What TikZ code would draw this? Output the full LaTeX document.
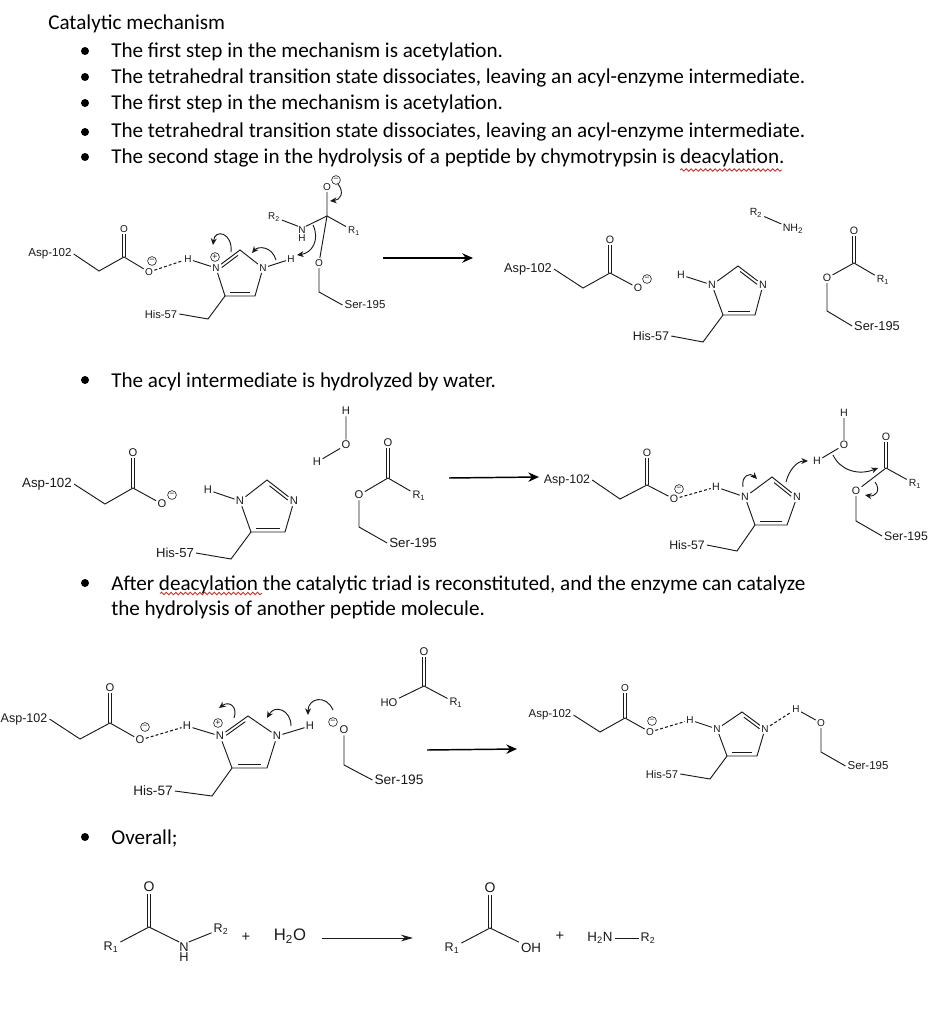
\documentclass[tikz,border=0pt]{standalone}
\usepackage{fontspec}
\setmainfont{Liberation Sans}
\newfontfamily\docfont{Carlito}
\usetikzlibrary{arrows.meta,calc,decorations.pathmorphing}
\newcommand{\fsz}[1]{\fontsize{#1}{#1}\selectfont}
\newcommand{\atomsz}{7.5}
\definecolor{inkc}{HTML}{1A1A1A}
\definecolor{squigc}{HTML}{C8302A}
\tikzset{
  body/.style={anchor=base west,inner sep=0pt,text=black,font=\docfont\fsz{15.85}},
  bul/.style={circle,fill=black,inner sep=0pt,minimum size=6pt},
  atom/.style={inner sep=0.9pt,text=inkc,font=\fsz{\atomsz}},
  lab/.style={inner sep=1.4pt,text=inkc,font=\fsz{#1}},
  chg/.style={circle,draw=inkc,line width=.45pt,inner sep=0pt,minimum size=6.6pt,text=inkc,font=\fsz{6.5}},
  bond/.style={draw=inkc,line width=.7pt},
  hb/.style={draw=inkc,line width=.8pt,dash pattern=on 2.2pt off 1.6pt},
  curly/.style={draw=inkc,line width=.7pt,-{Stealth[length=5pt,width=4.5pt]}},
  rxn/.style={draw=black,line width=1.1pt,-{Stealth[length=8pt,width=7pt]}},
  rxnthin/.style={draw=inkc,line width=.7pt,-{Stealth[length=9pt,width=5pt]}},
  squig/.style={draw=squigc,line width=.65pt,decorate,decoration={snake,amplitude=.9pt,segment length=3.6pt}},
}
\newcommand{\dbl}[2]{%
  \draw[bond,transform canvas={xshift=-1.1pt}] (#1)--(#2);
  \draw[bond,transform canvas={xshift=1.1pt}] (#1)--(#2);}
\newcommand{\inner}[3]{\draw[bond] ($(#1)!.16!(#2)!2.3pt!#3:(#2)$)--($(#1)!.84!(#2)!2.3pt!#3:(#2)$);}
\newcommand{\curl}[5]{%
  \coordinate (#1s) at (#2); \coordinate (#1e) at (#5);
  \draw[curly] (#1s) .. controls (#3) and (#4) .. (#1e);}
\begin{document}
\begin{tikzpicture}[x=.75pt,y=-.75pt]
\clip (0,0) rectangle (948,1020);
\fill[white] (0,0) rectangle (948,1020);
% ---------- text
\node[body] (t0) at (48,30) {Catalytic mechanism};
\node[body] (t1) at (111,58) {The first step in the mechanism is acetylation.};
\node[body] (t2) at (111,84) {The tetrahedral transition state dissociates, leaving an acyl-enzyme intermediate.};
\node[body] (t3) at (111,110) {The first step in the mechanism is acetylation.};
\node[body] (t4) at (111,138) {The tetrahedral transition state dissociates, leaving an acyl-enzyme intermediate.};
\node[body] (t5) at (111,164) {The second stage in the hydrolysis of a peptide by chymotrypsin is deacylation.};
\node[body] (t6) at (111,387) {The acyl intermediate is hydrolyzed by water.};
\node[body] (t7) at (111,590) {After deacylation the catalytic triad is reconstituted, and the enzyme can catalyze};
\node[body] (t8) at (111,615) {the hydrolysis of another peptide molecule.};
\node[body] (t9) at (111,844) {Overall;};
\foreach \n/\y in {b1/51,b2/77,b3/103,b4/132,b5/157,b6/380,b7/583,b9/837}
  \node[bul] (\n) at (85,\y) {};
\draw[squig] (680,170) -- (782,170);
\draw[squig] (160,593.5) -- (262,593.5);

% ---------- row 1 left
\renewcommand{\atomsz}{7.5}
\node[lab=8.7] (a1l) at (50,254) {Asp-102};
\coordinate (a1a) at (99,271); \coordinate (a1c) at (124,257);
\node[atom] (a1o) at (124,229) {O}; \node[atom] (a1m) at (149,272) {O};
\node[chg] (a1q) at (152,261) {−};
\draw[bond] (a1l.east)--(a1a)--(a1c)--(a1m); \dbl{a1c}{a1o}
\node[atom] (a1h) at (188,259) {H};
\draw[hb] (a1m)--(a1h);
\node[atom] (a1n) at (216,268) {N}; \node[chg] (a1p) at (215,257) {+};
\coordinate (a1t) at (240,250); \node[atom] (a1r) at (263,268) {N};
\coordinate (a1d) at (255,296); \coordinate (a1b) at (225,296);
\draw[bond] (a1h)--(a1n)--(a1t)--(a1r)--(a1d)--(a1b)--(a1n);
\inner{a1n}{a1t}{-90} \inner{a1b}{a1d}{90}
\node[lab=8.4] (a1j) at (161,314) {His-57};
\coordinate (a1g) at (208,319); \draw[bond] (a1j.east)--(a1g)--(a1b);
\node[atom] (a1k) at (291,259) {H}; \draw[bond] (a1r)--(a1k);
\coordinate (a1x) at (327,216); \node[atom] (a1y) at (327,187) {O}; \node[chg] (a1z) at (336,180) {−};
\node[atom,align=center,inner sep=0pt] (a1u) at (302,234) {N\\[-1.5pt]H};
\node[lab=7.4] (a1v) at (274,217) {R\textsubscript{2}};
\node[lab=7.4] (a1w) at (354,231) {R\textsubscript{1}};
\node[atom] (a1q2) at (319,263) {O};
\coordinate (a1h2) at (319,292);
\node[lab=8.6] (a1s) at (365,305) {Ser-195};
\draw[bond] (a1y)--(a1x)--(a1w); \draw[bond] (a1x)--(a1u.north east); \draw[bond] (a1v)--(a1u.north west);
\draw[bond] (a1x)--(a1q2)--(a1h2)--(a1s.west);
\curl{c11}{231,252}{233,233}{215,228}{213,245}
\curl{c12}{276,260}{272,246}{258,246}{252,253}
\curl{c13}{313,225}{320,240}{312,253}{297,255}
\curl{c14}{338,184}{345,193}{340,200}{330,201}
\coordinate (r1s) at (383,258); \coordinate (r1e) at (473,258);
\draw[rxn] (r1s)--(r1e);

% ---------- row 1 right
\renewcommand{\atomsz}{8}
\node[lab=9.6] (a2l) at (528,269) {Asp-102};
\coordinate (a2a) at (583,288); \coordinate (a2c) at (610,273);
\node[atom] (a2o) at (610,240) {O}; \node[atom] (a2m) at (638,288) {O};
\node[chg] (a2q) at (647,279) {−};
\draw[bond] (a2l.east)--(a2a)--(a2c)--(a2m); \dbl{a2c}{a2o}
\node[atom] (a2h) at (681,275) {H};
\node[atom] (a2n) at (712,285) {N}; \coordinate (a2t) at (738,266); \node[atom] (a2r) at (763,285) {N};
\coordinate (a2d) at (755,315); \coordinate (a2b) at (723,315);
\draw[bond] (a2h)--(a2n)--(a2t)--(a2r)--(a2d)--(a2b)--(a2n);
\inner{a2t}{a2r}{-90} \inner{a2b}{a2d}{90}
\node[lab=9.4] (a2j) at (651,336) {His-57};
\coordinate (a2g) at (703,342); \draw[bond] (a2j.east)--(a2g)--(a2b);
\node[lab=7.8] (a2v) at (756,213) {R\textsubscript{2}};
\node[atom] (a2w) at (793,229) {NH\textsubscript{2}};
\draw[bond] (a2v)--(a2w);
\coordinate (a2x) at (854,263); \node[atom] (a2y) at (854,231) {O};
\node[lab=7.8] (a2z) at (883,280) {R\textsubscript{1}};
\node[atom] (a2e) at (827,278) {O}; \coordinate (a2f) at (827,311);
\node[lab=9.6] (a2s) at (877,326) {Ser-195};
\dbl{a2x}{a2y}
\draw[bond] (a2z)--(a2x)--(a2e)--(a2f)--(a2s.west);

% ---------- row 2 left
\renewcommand{\atomsz}{8.4}
\node[lab=10] (a3l) at (47,484) {Asp-102};
\coordinate (a3a) at (105,504); \coordinate (a3c) at (133,488);
\node[atom] (a3o) at (133,453) {O}; \node[atom] (a3m) at (162,504) {O};
\node[chg] (a3q) at (172,495) {−};
\draw[bond] (a3l.east)--(a3a)--(a3c)--(a3m); \dbl{a3c}{a3o}
\node[atom] (a3h) at (208,490) {H};
\node[atom] (a3n) at (240,501) {N}; \coordinate (a3t) at (267,480); \node[atom] (a3r) at (294,501) {N};
\coordinate (a3d) at (285,532); \coordinate (a3b) at (251,532);
\draw[bond] (a3h)--(a3n)--(a3t)--(a3r)--(a3d)--(a3b)--(a3n);
\inner{a3t}{a3r}{-90} \inner{a3b}{a3d}{90}
\node[lab=9.8] (a3j) at (175,553) {His-57};
\coordinate (a3g) at (231,559); \draw[bond] (a3j.east)--(a3g)--(a3b);
\node[atom] (a3k) at (346,411) {H}; \node[atom] (a3u) at (346,445) {O}; \node[atom] (a3v) at (317,462) {H};
\draw[bond] (a3k)--(a3u)--(a3v);
\coordinate (a3x) at (388,478); \node[atom] (a3y) at (388,443) {O};
\node[lab=8.2] (a3z) at (419,496) {R\textsubscript{1}};
\node[atom] (a3e) at (359,495) {O}; \coordinate (a3f) at (359,527);
\node[lab=10] (a3s) at (413,543) {Ser-195};
\dbl{a3x}{a3y}
\draw[bond] (a3z)--(a3x)--(a3e)--(a3f)--(a3s.west);
\coordinate (r2s) at (449,478); \coordinate (r2e) at (539,477);
\draw[rxn] (r2s)--(r2e);

% ---------- row 2 right
\renewcommand{\atomsz}{8}
\node[lab=9.3] (a4l) at (567,480) {Asp-102};
\coordinate (a4a) at (620,499); \coordinate (a4c) at (647,485);
\node[atom] (a4o) at (647,453) {O}; \node[atom] (a4m) at (674,499) {O};
\node[chg] (a4q) at (679,489) {−};
\draw[bond] (a4l.east)--(a4a)--(a4c)--(a4m); \dbl{a4c}{a4o}
\node[atom] (a4h) at (716,487) {H}; \draw[hb] (a4m)--(a4h);
\node[atom] (a4n) at (745,497) {N}; \coordinate (a4t) at (772,477); \node[atom] (a4r) at (797,497) {N};
\coordinate (a4d) at (787,525); \coordinate (a4b) at (755,525);
\draw[bond] (a4h)--(a4n)--(a4t)--(a4r)--(a4d)--(a4b)--(a4n);
\inner{a4t}{a4r}{-90} \inner{a4b}{a4d}{90}
\node[lab=9.2] (a4j) at (687,545) {His-57};
\coordinate (a4g) at (737,551); \draw[bond] (a4j.east)--(a4g)--(a4b);
\node[atom] (a4k) at (844,413) {H}; \node[atom] (a4u) at (844,445) {O}; \node[atom] (a4v) at (817,461) {H};
\draw[bond] (a4k)--(a4u)--(a4v);
\coordinate (a4x) at (886,468); \node[atom] (a4y) at (886,437) {O};
\node[lab=7.8] (a4z) at (915,484) {R\textsubscript{1}};
\node[atom] (a4e) at (856,491) {O}; \coordinate (a4f) at (856,521);
\node[lab=9.2] (a4s) at (906,536) {Ser-195};
\dbl{a4x}{a4y}
\draw[bond] (a4z)--(a4x)--(a4e)--(a4f)--(a4s.west);
\curl{c41}{743,487}{741,476}{750,472}{757,479}
\curl{c42}{786,482}{789,470}{797,461}{808,461}
\curl{c43}{833,455}{840,470}{858,476}{878,468}
\curl{c44}{875,482}{881,490}{876,497}{865,495}

% ---------- row 3 left
\renewcommand{\atomsz}{8.4}
\node[lab=9.4,anchor=east] (a5l) at (49.5,719) {Asp-102};
\coordinate (a5a) at (80,739); \coordinate (a5c) at (110,723);
\node[atom] (a5o) at (110,688) {O}; \node[atom] (a5m) at (140,740) {O};
\node[chg] (a5q) at (145,727) {−};
\draw[bond] (a5l.east)--(a5a)--(a5c)--(a5m); \dbl{a5c}{a5o}
\node[atom] (a5h) at (187,726) {H}; \draw[hb] (a5m)--(a5h);
\node[atom] (a5n) at (220,736) {N}; \node[chg] (a5p) at (218,723) {+};
\coordinate (a5t) at (248,716); \node[atom] (a5r) at (277,736) {N};
\coordinate (a5d) at (267,768); \coordinate (a5b) at (232,768);
\draw[bond] (a5h)--(a5n)--(a5t)--(a5r)--(a5d)--(a5b)--(a5n);
\inner{a5n}{a5t}{-90} \inner{a5b}{a5d}{90}
\node[lab=10.2] (a5j) at (153,791) {His-57};
\coordinate (a5g) at (212,796); \draw[bond] (a5j.east)--(a5g)--(a5b);
\node[atom] (a5k) at (310,726) {H}; \draw[bond] (a5r)--(a5k);
\node[atom] (a5e) at (344,730) {O}; \node[chg] (a5w) at (333,722) {−};
\coordinate (a5f) at (344,765);
\node[lab=10.3] (a5s) at (399,780) {Ser-195};
\draw[bond] (a5e)--(a5f)--(a5s.west);
\coordinate (a5x) at (424,686); \node[atom] (a5y) at (424,652) {O};
\node[atom] (a5v) at (389,703) {HO};
\node[lab=8.2] (a5z) at (456,703) {R\textsubscript{1}};
\dbl{a5x}{a5y}
\draw[bond] (a5v)--(a5x)--(a5z);
\curl{c51}{234,718}{238,708}{230,700}{219,708}
\curl{c52}{291,726}{291,710}{275,704}{267,718}
\curl{c53}{333,710}{326,694}{308,698}{308,715}
\coordinate (r3s) at (427,750); \coordinate (r3e) at (517,749);
\draw[rxn] (r3s)--(r3e);

% ---------- row 3 right
\renewcommand{\atomsz}{7.5}
\node[lab=8.6] (a6l) at (550,715) {Asp-102};
\coordinate (a6a) at (600,732); \coordinate (a6c) at (625,718);
\node[atom] (a6o) at (625,688) {O}; \node[atom] (a6m) at (650,732) {O};
\node[chg] (a6q) at (652,721) {−};
\draw[bond] (a6l.east)--(a6a)--(a6c)--(a6m); \dbl{a6c}{a6o}
\node[atom] (a6h) at (690,720) {H}; \draw[hb] (a6m)--(a6h);
\node[atom] (a6n) at (717,729) {N}; \coordinate (a6t) at (742,712); \node[atom] (a6r) at (765,729) {N};
\coordinate (a6d) at (757,756); \coordinate (a6b) at (727,756);
\draw[bond] (a6h)--(a6n)--(a6t)--(a6r)--(a6d)--(a6b)--(a6n);
\inner{a6t}{a6r}{-90} \inner{a6b}{a6d}{90}
\node[lab=8.4] (a6j) at (662,774) {His-57};
\coordinate (a6g) at (710,779); \draw[bond] (a6j.east)--(a6g)--(a6b);
\node[atom] (a6k) at (796,709) {H}; \draw[hb] (a6r)--(a6k);
\node[atom] (a6e) at (821,723) {O}; \coordinate (a6f) at (821,752);
\node[lab=8.6] (a6s) at (868,766) {Ser-195};
\draw[bond] (a6k)--(a6e)--(a6f)--(a6s.west);

% ---------- overall
\coordinate (b1x) at (149,927); \node[lab=10.5] (b1o) at (149,887) {O};
\node[lab=9.4] (b1r) at (111,947) {R\textsubscript{1}};
\node[lab=9.6,align=center,inner sep=0pt] (b1n) at (184,952) {N\\[-1.5pt]H};
\node[lab=9.4] (b1q) at (221,929) {R\textsubscript{2}};
\dbl{b1x}{b1o}
\draw[bond] (b1r)--(b1x)--(b1n.north west); \draw[bond] (b1n.north east)--(b1q);
\node[lab=11] (b1p) at (246,937) {+};
\node[lab=12.5] (b1w) at (290,936) {H\textsubscript{2}O};
\coordinate (r4s) at (322,938); \coordinate (r4e) at (413,938);
\draw[rxnthin] (r4s)--(r4e);
\coordinate (b2x) at (490,928); \node[lab=10.5] (b2o) at (490,888) {O};
\node[lab=9.4] (b2r) at (452,948) {R\textsubscript{1}};
\node[lab=10] (b2h) at (531,948) {OH};
\dbl{b2x}{b2o}
\draw[bond] (b2r)--(b2x)--(b2h);
\node[lab=11] (b2p) at (560,936) {+};
\node[lab=10] (b2n) at (600,938) {H\textsubscript{2}N};
\node[lab=9.4] (b2q) at (648,938) {R\textsubscript{2}};
\draw[bond] (b2n)--(b2q);
\end{tikzpicture}
\end{document}
